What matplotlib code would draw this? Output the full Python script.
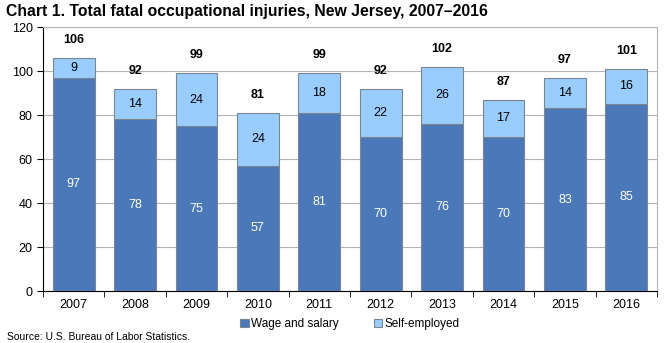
import numpy as np
import matplotlib.pyplot as plt

years = ["2007", "2008", "2009", "2010", "2011", "2012", "2013", "2014", "2015", "2016"]
wage = [97, 78, 75, 57, 81, 70, 76, 70, 83, 85]
self_emp = [9, 14, 24, 24, 18, 22, 26, 17, 14, 16]
totals = [106, 92, 99, 81, 99, 92, 102, 87, 97, 101]

plt.rcParams['font.family'] = ['Liberation Sans', 'DejaVu Sans']

fig = plt.figure(figsize=(6.7, 3.43), dpi=100)
ax = fig.add_axes([43/670, 1-291/343, 614/670, 264/343])

x = np.arange(len(years))
dark = "#4a78b8"
light = "#99ccff"
b1 = ax.bar(x, wage, 0.68, color=dark, edgecolor="#7a8590", linewidth=0.8, label="Wage and salary", zorder=3)
b2 = ax.bar(x, self_emp, 0.68, bottom=wage, color=light, edgecolor="#7a8590", linewidth=0.8, label="Self-employed", zorder=3)

for i in range(len(years)):
    ax.text(x[i], wage[i]/2, str(wage[i]), ha="center", va="center", color="white", fontsize=9, zorder=4)
    ax.text(x[i], wage[i] + self_emp[i]/2, str(self_emp[i]), ha="center", va="center", color="black", fontsize=9, zorder=4)
    ax.annotate(str(totals[i]), (x[i], totals[i]), xytext=(0, 13), textcoords="offset points",
                ha="center", va="center", fontsize=9, fontweight="bold")

ax.set_xlim(-0.5, len(years) - 0.5)
ax.set_ylim(0, 120)
ax.set_yticks(range(0, 121, 20))
ax.yaxis.grid(True, color="#b4b4b4", linewidth=0.8, zorder=0)
ax.set_xticks(x)
ax.set_xticklabels(years)
ax.set_xticks(np.arange(-0.5, len(years), 1), minor=True)
ax.tick_params(axis="x", which="major", length=0, labelsize=9, pad=6)
ax.tick_params(axis="x", which="minor", length=4, color="black")
ax.tick_params(axis="y", labelsize=9, length=4, color="black")
for s in ["top", "right"]:
    ax.spines[s].set_color("#b4b4b4")
ax.spines["left"].set_color("black")
ax.spines["bottom"].set_color("black")

fig.legend(handles=[b1, b2], loc="center", bbox_to_anchor=(350/670, 1-324/343), ncol=2,
           frameon=False, fontsize=8.5, handlelength=0.7, handleheight=0.7, handletextpad=0.2,
           columnspacing=3.0)

fig.text(6/670, 1-4/343, "Chart 1. Total fatal occupational injuries, New Jersey, 2007\u20132016",
         fontsize=11.3, fontweight="bold", va="top", ha="left")
fig.text(7/670, 1-337/343, "Source: U.S. Bureau of Labor Statistics.", fontsize=7.5, va="center", ha="left")

fig.savefig("out.png", dpi=100)
